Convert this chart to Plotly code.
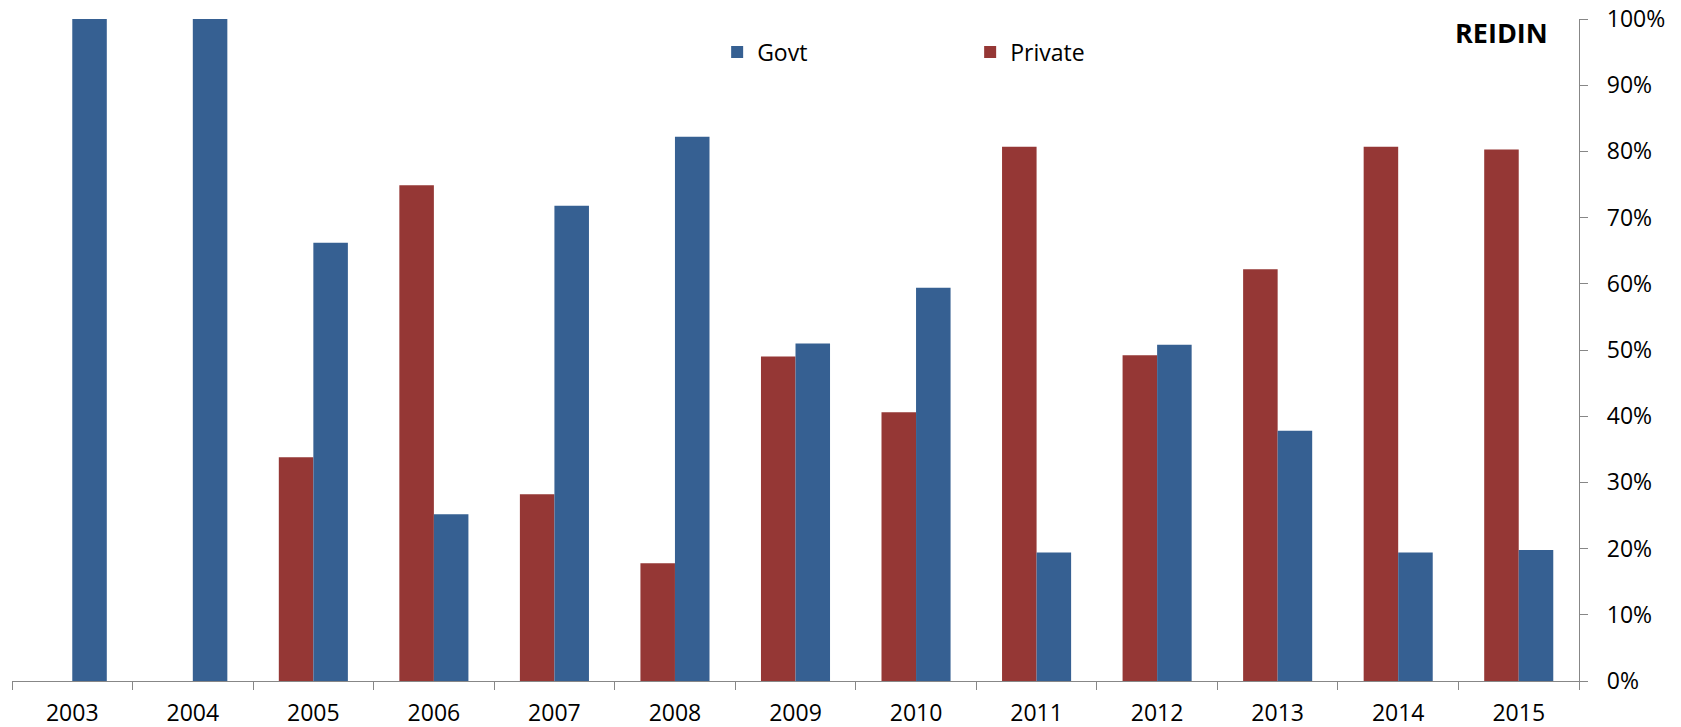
import plotly.graph_objects as go

years = ["2003", "2004", "2005", "2006", "2007", "2008", "2009",
         "2010", "2011", "2012", "2013", "2014", "2015"]
govt = [1.000, 1.000, 0.662, 0.252, 0.718, 0.822, 0.510,
        0.594, 0.194, 0.508, 0.378, 0.194, 0.198]
private = [0.0, 0.0, 0.338, 0.749, 0.282, 0.178, 0.490,
           0.406, 0.807, 0.492, 0.622, 0.807, 0.803]

FONT = "Open Sans, Liberation Sans, Arial, sans-serif"
AXIS_GRAY = "#878787"

fig = go.Figure()
fig.add_trace(go.Bar(x=years, y=private, name="Private",
                     marker=dict(color="#953735", line=dict(width=0))))
fig.add_trace(go.Bar(x=years, y=govt, name="Govt",
                     marker=dict(color="#366092", line=dict(width=0))))

fig.update_layout(
    width=1681, height=727,
    margin=dict(l=12, r=102, t=19, b=46, autoexpand=False),
    paper_bgcolor="white", plot_bgcolor="white",
    barmode="group", bargap=0.427, bargroupgap=0,
    font=dict(family=FONT, size=23, color="black"),
    showlegend=True,
    legend=dict(orientation="h", traceorder="reversed",
                x=0.450, xanchor="left", y=1 - (52 - 19) / 662, yref="paper",
                yanchor="middle", entrywidth=208, entrywidthmode="pixels",
                font=dict(family=FONT, size=23, color="black"),
                bgcolor="rgba(0,0,0,0)"),
    xaxis=dict(type="category", showline=True, linecolor=AXIS_GRAY, linewidth=1.3,
               ticks="outside", tickson="boundaries", ticklen=8,
               tickcolor=AXIS_GRAY, tickwidth=1.3, showgrid=False,
               tickfont=dict(family=FONT, size=23, color="black"),
               ticklabelstandoff=11),
    yaxis=dict(side="right", range=[0, 1], tickformat=".0%", dtick=0.1,
               showline=True, linecolor=AXIS_GRAY, linewidth=1.3,
               ticks="outside", ticklen=8, tickcolor=AXIS_GRAY, tickwidth=1.3,
               showgrid=False, zeroline=False,
               tickfont=dict(family=FONT, size=23, color="black"),
               ticklabelstandoff=14),
    annotations=[dict(text="<b>REIDIN</b>", xref="paper", yref="paper",
                      x=(1550 - 12) / 1567, y=1.0 - (32 - 19) / 662,
                      xanchor="right", yanchor="middle", showarrow=False,
                      font=dict(family=FONT, size=27, color="black"))],
)

fig.write_html("out.html",
               config={"displayModeBar": False},
               post_script="document.body.style.margin='0';"
                           "document.body.style.overflow='hidden';")
